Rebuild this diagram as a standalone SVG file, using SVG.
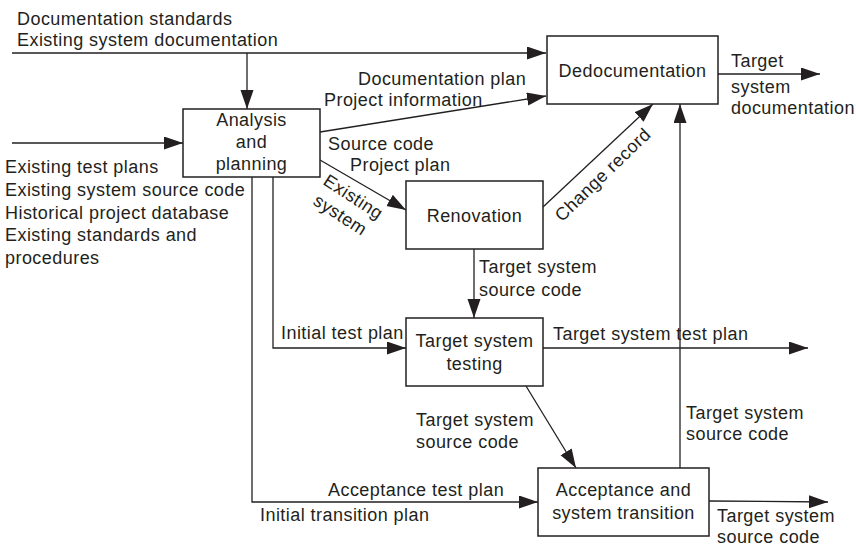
<svg xmlns="http://www.w3.org/2000/svg" width="856" height="548" viewBox="0 0 856 548">
<style>
text{font-family:"Liberation Sans",Arial,sans-serif;font-size:18px;letter-spacing:0.45px;fill:#231f20}
.c{text-anchor:middle}
.box{fill:#fff;stroke:#231f20;stroke-width:1.5}
.ln{fill:none;stroke:#231f20;stroke-width:1.3}
</style>
<defs>
<marker id="ah" markerUnits="userSpaceOnUse" markerWidth="20" markerHeight="14" refX="19" refY="6.5" orient="auto">
<path d="M0,0 L19,6.5 L0,13 z" fill="#231f20"/>
</marker>
</defs>
<rect width="856" height="548" fill="#fff"/>
<g id="connectors">
<path class="ln" d="M12,53 H546" marker-end="url(#ah)"/>
<path class="ln" d="M247,53 V109" marker-end="url(#ah)"/>
<path class="ln" d="M12,143 H183" marker-end="url(#ah)"/>
<path class="ln" d="M320,132 L546,96" marker-end="url(#ah)"/>
<path class="ln" d="M320,160 L406,210" marker-end="url(#ah)"/>
<path class="ln" d="M543,207 L653,104" marker-end="url(#ah)"/>
<path class="ln" d="M718,74 H820" marker-end="url(#ah)"/>
<path class="ln" d="M474,249 V318" marker-end="url(#ah)"/>
<path class="ln" d="M273,177 V348 H406" marker-end="url(#ah)"/>
<path class="ln" d="M252,177 V502 H538" marker-end="url(#ah)"/>
<path class="ln" d="M543,348 H808" marker-end="url(#ah)"/>
<path class="ln" d="M526,386 L576,468" marker-end="url(#ah)"/>
<path class="ln" d="M680,468 V104" marker-end="url(#ah)"/>
<path class="ln" d="M709,501 L828,502" marker-end="url(#ah)"/>
</g>
<g id="labels">
<text x="17" y="25">Documentation standards</text>
<text x="17" y="46">Existing system documentation</text>
<text x="5" y="173">Existing test plans</text>
<text x="5" y="196">Existing system source code</text>
<text x="5" y="218.5">Historical project database</text>
<text x="5" y="241">Existing standards and</text>
<text x="5" y="264">procedures</text>
<text x="358" y="85">Documentation plan</text>
<text x="324" y="106">Project information</text>
<text x="328" y="150">Source code</text>
<text x="350" y="171">Project plan</text>
<text class="c" transform="translate(350,202) rotate(33)">Existing</text>
<text class="c" transform="translate(337,220) rotate(33)">system</text>
<text class="c" transform="translate(607,179) rotate(-44)">Change record</text>
<text x="731" y="67">Target</text>
<text x="731" y="93">system</text>
<text x="731" y="114">documentation</text>
<text x="479" y="273">Target system</text>
<text x="479" y="296">source code</text>
<text x="281" y="339">Initial test plan</text>
<text x="553" y="340">Target  system test plan</text>
<text x="416" y="426">Target system</text>
<text x="416" y="448">source code</text>
<text x="686" y="419">Target system</text>
<text x="686" y="440">source code</text>
<text x="328" y="496">Acceptance test plan</text>
<text x="260" y="521">Initial transition plan</text>
<text x="717" y="522">Target system</text>
<text x="717" y="543">source code</text>
</g>
<g id="dedocumentation">
<rect class="box" x="547" y="36" width="171" height="68"/>
<text class="c" x="632.5" y="77">Dedocumentation</text>
</g>
<g id="analysis">
<rect class="box" x="183" y="109" width="137" height="68"/>
<text class="c" x="251.5" y="126">Analysis</text>
<text class="c" x="251.5" y="148">and</text>
<text class="c" x="251.5" y="170">planning</text>
</g>
<g id="renovation">
<rect class="box" x="406" y="181" width="137" height="68"/>
<text class="c" x="474.5" y="222">Renovation</text>
</g>
<g id="testing">
<rect class="box" x="406" y="318" width="137" height="68"/>
<text class="c" x="474.5" y="347">Target system</text>
<text class="c" x="474.5" y="370">testing</text>
</g>
<g id="acceptance">
<rect class="box" x="538" y="468" width="171" height="68"/>
<text class="c" x="623.5" y="496">Acceptance and</text>
<text class="c" x="623.5" y="519">system transition</text>
</g>
</svg>
